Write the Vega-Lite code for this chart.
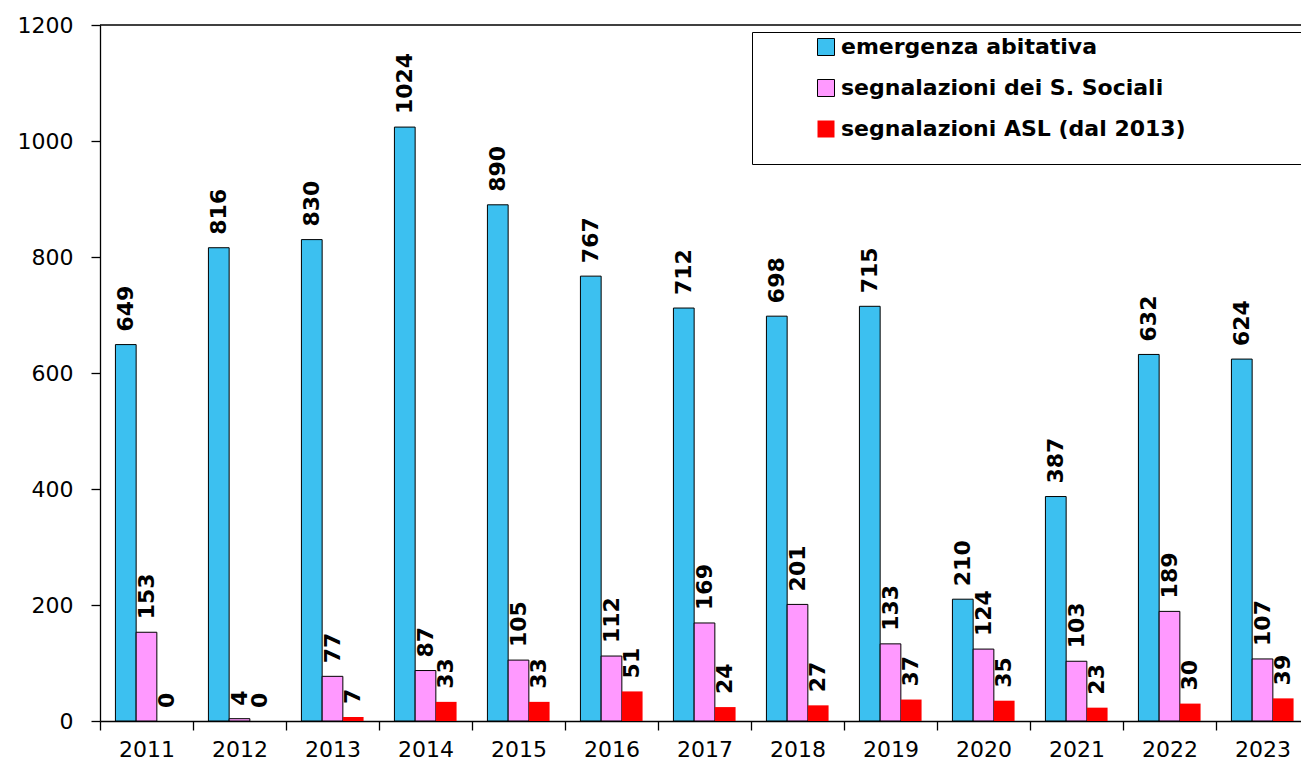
{
  "$schema": "https://vega.github.io/schema/vega-lite/v6.json",
  "width": 1209,
  "height": 696,
  "autosize": {"type": "none"},
  "padding": {"left": 100, "top": 25, "right": 0, "bottom": 43},
  "background": "white",
  "config": {"view": {"stroke": null}, "font": "DejaVu Sans"},
  "datasets": {
    "interventi": [
      {"anno": "2011", "serie": "emergenza abitativa", "valore": 649},
      {"anno": "2011", "serie": "segnalazioni dei S. Sociali", "valore": 153},
      {"anno": "2011", "serie": "segnalazioni ASL (dal 2013)", "valore": 0},
      {"anno": "2012", "serie": "emergenza abitativa", "valore": 816},
      {"anno": "2012", "serie": "segnalazioni dei S. Sociali", "valore": 4},
      {"anno": "2012", "serie": "segnalazioni ASL (dal 2013)", "valore": 0},
      {"anno": "2013", "serie": "emergenza abitativa", "valore": 830},
      {"anno": "2013", "serie": "segnalazioni dei S. Sociali", "valore": 77},
      {"anno": "2013", "serie": "segnalazioni ASL (dal 2013)", "valore": 7},
      {"anno": "2014", "serie": "emergenza abitativa", "valore": 1024},
      {"anno": "2014", "serie": "segnalazioni dei S. Sociali", "valore": 87},
      {"anno": "2014", "serie": "segnalazioni ASL (dal 2013)", "valore": 33},
      {"anno": "2015", "serie": "emergenza abitativa", "valore": 890},
      {"anno": "2015", "serie": "segnalazioni dei S. Sociali", "valore": 105},
      {"anno": "2015", "serie": "segnalazioni ASL (dal 2013)", "valore": 33},
      {"anno": "2016", "serie": "emergenza abitativa", "valore": 767},
      {"anno": "2016", "serie": "segnalazioni dei S. Sociali", "valore": 112},
      {"anno": "2016", "serie": "segnalazioni ASL (dal 2013)", "valore": 51},
      {"anno": "2017", "serie": "emergenza abitativa", "valore": 712},
      {"anno": "2017", "serie": "segnalazioni dei S. Sociali", "valore": 169},
      {"anno": "2017", "serie": "segnalazioni ASL (dal 2013)", "valore": 24},
      {"anno": "2018", "serie": "emergenza abitativa", "valore": 698},
      {"anno": "2018", "serie": "segnalazioni dei S. Sociali", "valore": 201},
      {"anno": "2018", "serie": "segnalazioni ASL (dal 2013)", "valore": 27},
      {"anno": "2019", "serie": "emergenza abitativa", "valore": 715},
      {"anno": "2019", "serie": "segnalazioni dei S. Sociali", "valore": 133},
      {"anno": "2019", "serie": "segnalazioni ASL (dal 2013)", "valore": 37},
      {"anno": "2020", "serie": "emergenza abitativa", "valore": 210},
      {"anno": "2020", "serie": "segnalazioni dei S. Sociali", "valore": 124},
      {"anno": "2020", "serie": "segnalazioni ASL (dal 2013)", "valore": 35},
      {"anno": "2021", "serie": "emergenza abitativa", "valore": 387},
      {"anno": "2021", "serie": "segnalazioni dei S. Sociali", "valore": 103},
      {"anno": "2021", "serie": "segnalazioni ASL (dal 2013)", "valore": 23},
      {"anno": "2022", "serie": "emergenza abitativa", "valore": 632},
      {"anno": "2022", "serie": "segnalazioni dei S. Sociali", "valore": 189},
      {"anno": "2022", "serie": "segnalazioni ASL (dal 2013)", "valore": 30},
      {"anno": "2023", "serie": "emergenza abitativa", "valore": 624},
      {"anno": "2023", "serie": "segnalazioni dei S. Sociali", "valore": 107},
      {"anno": "2023", "serie": "segnalazioni ASL (dal 2013)", "valore": 39}
    ],
    "cornice": [{"livello": 1200}]
  },
  "layer": [
    {
      "data": {"name": "cornice"},
      "mark": {"type": "rule", "color": "black", "strokeWidth": 1.3},
      "encoding": {
        "y": {"field": "livello", "type": "quantitative"}
      }
    },
    {
      "data": {"name": "interventi"},
      "mark": {"type": "bar", "strokeWidth": 1},
      "encoding": {
        "x": {
          "field": "anno",
          "type": "nominal",
          "scale": {"paddingInner": 0, "paddingOuter": 0},
          "axis": {
            "title": null,
            "labelAngle": 0,
            "tickBand": "extent",
            "tickSize": 9,
            "tickColor": "black",
            "tickWidth": 1.3,
            "domainColor": "black",
            "domainWidth": 1.3,
            "labelFontSize": 22,
            "labelColor": "black",
            "labelPadding": 9
          }
        },
        "xOffset": {
          "field": "serie",
          "type": "nominal",
          "sort": ["emergenza abitativa", "segnalazioni dei S. Sociali", "segnalazioni ASL (dal 2013)"],
          "scale": {"paddingInner": 0, "paddingOuter": 0.745}
        },
        "y": {
          "field": "valore",
          "type": "quantitative",
          "scale": {"domain": [0, 1200], "nice": false},
          "axis": {
            "title": null,
            "grid": false,
            "format": "d",
            "values": [0, 200, 400, 600, 800, 1000, 1200],
            "tickSize": 9,
            "tickColor": "black",
            "tickWidth": 1.3,
            "domainColor": "black",
            "domainWidth": 1.3,
            "labelFontSize": 22,
            "labelColor": "black",
            "labelPadding": 18
          }
        },
        "fill": {
          "field": "serie",
          "type": "nominal",
          "scale": {
            "domain": ["emergenza abitativa", "segnalazioni dei S. Sociali", "segnalazioni ASL (dal 2013)"],
            "range": ["#3cc0f0", "#ff99ff", "#ff0000"]
          },
          "legend": {
            "title": "\u00a0",
            "titleOrient": "right",
            "titleBaseline": "top",
            "titleAnchor": "start",
            "titleFontSize": 125,
            "titlePadding": 120,
            "orient": "none",
            "legendX": 652,
            "legendY": 7,
            "padding": 4,
            "symbolType": "square",
            "symbolSize": 289,
            "symbolStrokeWidth": 1,
            "symbolOffset": 59,
            "labelOffset": 4,
            "labelFontSize": 22,
            "labelFontWeight": "bold",
            "labelColor": "black",
            "labelLimit": 600,
            "rowPadding": 19,
            "strokeColor": "black",
            "fillColor": "white"
          }
        },
        "stroke": {
          "field": "serie",
          "type": "nominal",
          "scale": {
            "domain": ["emergenza abitativa", "segnalazioni dei S. Sociali", "segnalazioni ASL (dal 2013)"],
            "range": ["#000000", "#000000", "transparent"]
          }
        }
      }
    },
    {
      "data": {"name": "interventi"},
      "mark": {
        "type": "text",
        "angle": 270,
        "align": "left",
        "baseline": "middle",
        "dx": 13,
        "fontSize": 22,
        "fontWeight": "bold",
        "color": "black"
      },
      "encoding": {
        "x": {"field": "anno", "type": "nominal"},
        "xOffset": {
          "field": "serie",
          "type": "nominal",
          "sort": ["emergenza abitativa", "segnalazioni dei S. Sociali", "segnalazioni ASL (dal 2013)"]
        },
        "y": {"field": "valore", "type": "quantitative"},
        "text": {"field": "valore", "type": "quantitative"}
      }
    }
  ]
}
